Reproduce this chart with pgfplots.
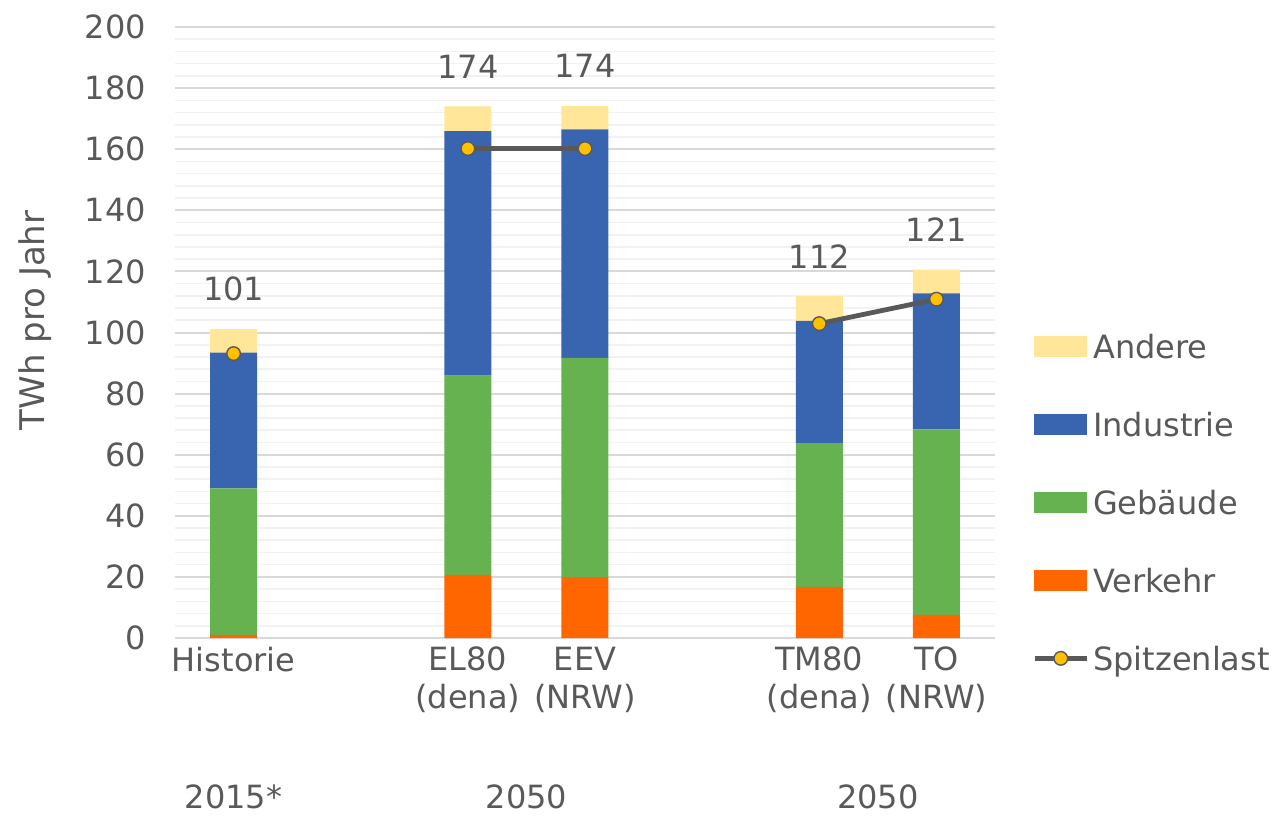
\documentclass[border=0pt]{standalone}
\usepackage{pgfplots}
\pgfplotsset{compat=1.18}
\usepackage{fontspec}
\setmainfont{DejaVu Sans}
\definecolor{andere}{RGB}{255,230,153}
\definecolor{industrie}{RGB}{56,100,176}
\definecolor{gebaeude}{RGB}{103,178,80}
\definecolor{verkehr}{RGB}{255,102,0}
\definecolor{txt}{RGB}{89,89,89}
\definecolor{gridmaj}{RGB}{217,217,217}
\definecolor{gridmin}{RGB}{242,242,242}
\definecolor{spitzmark}{RGB}{255,192,0}
\pgfplotsset{
  common/.style={
    scale only axis, width=410pt, height=305.5pt,
    xmin=-0.5, xmax=6.5, ymin=0, ymax=200,
    enlargelimits=false,
  },
  rectlegend/.style={legend image code/.code={\fill[#1] (0pt,-5pt) rectangle (26pt,5pt);}},
  spitzlegend/.style={legend image code/.code={\draw[mark repeat=2, mark phase=2, ##1] plot coordinates {(0pt,0pt) (13pt,0pt) (26pt,0pt)};}},
}
\begin{document}
\begin{tikzpicture}
\useasboundingbox (-87.5pt,-88.5pt) rectangle (550.5pt,319pt);
\begin{axis}[
  common,
  ybar stacked, bar width=23.5pt,
  xtick={0,2,3,5,6},
  xticklabels={Historie, EL80\\(dena), EEV\\(NRW), TM80\\(dena), TO\\(NRW)},
  extra x ticks={0,2.5,5.5},
  extra x tick labels={2015*,2050,2050},
  extra x tick style={grid=none, tick label style={yshift=-69pt}},
  ytick={0,20,...,200}, minor y tick num=4,
  ymajorgrids, yminorgrids,
  major grid style={draw=gridmaj, line width=1pt},
  minor grid style={draw=gridmin, line width=0.8pt},
  axis line style={draw=none},
  major tick length=0pt, minor tick length=0pt,
  tick label style={font=\fontsize{16}{19}\selectfont, text=txt, align=center},
  xticklabel style={yshift=-1pt},
  yticklabel style={xshift=-11pt},
  /pgf/number format/assume math mode=true,
  ylabel={TWh pro Jahr},
  every axis y label/.style={at={(axis description cs:-0.1707,0.52)}, rotate=90, anchor=center, font=\fontsize{17}{20}\selectfont, text=txt},
]
\addplot[fill=verkehr, draw=none] coordinates {(0,1.0) (2,20.7) (3,19.9) (5,16.7) (6,7.6)};
\addplot[fill=gebaeude, draw=none] coordinates {(0,48.0) (2,65.2) (3,71.8) (5,47.1) (6,60.7)};
\addplot[fill=industrie, draw=none] coordinates {(0,44.4) (2,80.0) (3,74.8) (5,40.0) (6,44.5)};
\addplot[fill=andere, draw=none, nodes near coords, point meta=explicit,
  nodes near coords align=center,
  every node near coord/.append style={font=\fontsize{16}{19}\selectfont, text=txt, anchor=center, yshift=26pt}]
  coordinates {(0,7.7) [101] (2,8.1) [174] (3,7.7) [174] (5,8.1) [112] (6,7.8) [121]};
\end{axis}
\begin{axis}[
  common, hide axis, unbounded coords=jump,
  legend style={draw=none, fill=none, inner sep=0pt,
    at={(axis description cs:1,0.222)}, anchor=west, xshift=18.5pt,
    font=\fontsize{16}{19}\selectfont, text=txt,
    nodes={inner sep=2pt, text height=11.7pt, text depth=0pt},
    row sep=23.3pt,
    /tikz/every even column/.append style={column sep=0pt}},
  legend cell align=left,
]
\addlegendimage{rectlegend=andere}
\addlegendimage{rectlegend=industrie}
\addlegendimage{rectlegend=gebaeude}
\addlegendimage{rectlegend=verkehr}
\addplot[draw=txt, line width=2.4pt, mark=*, mark size=3.4pt,
  mark options={fill=spitzmark, draw=txt, line width=0.7pt}, spitzlegend]
  coordinates {(0,93.1) (1,nan) (2,160.2) (3,160.2) (4,nan) (5,102.9) (6,110.9)};
\legend{Andere, Industrie, Gebäude, Verkehr, Spitzenlast}
\end{axis}
\end{tikzpicture}
\end{document}
